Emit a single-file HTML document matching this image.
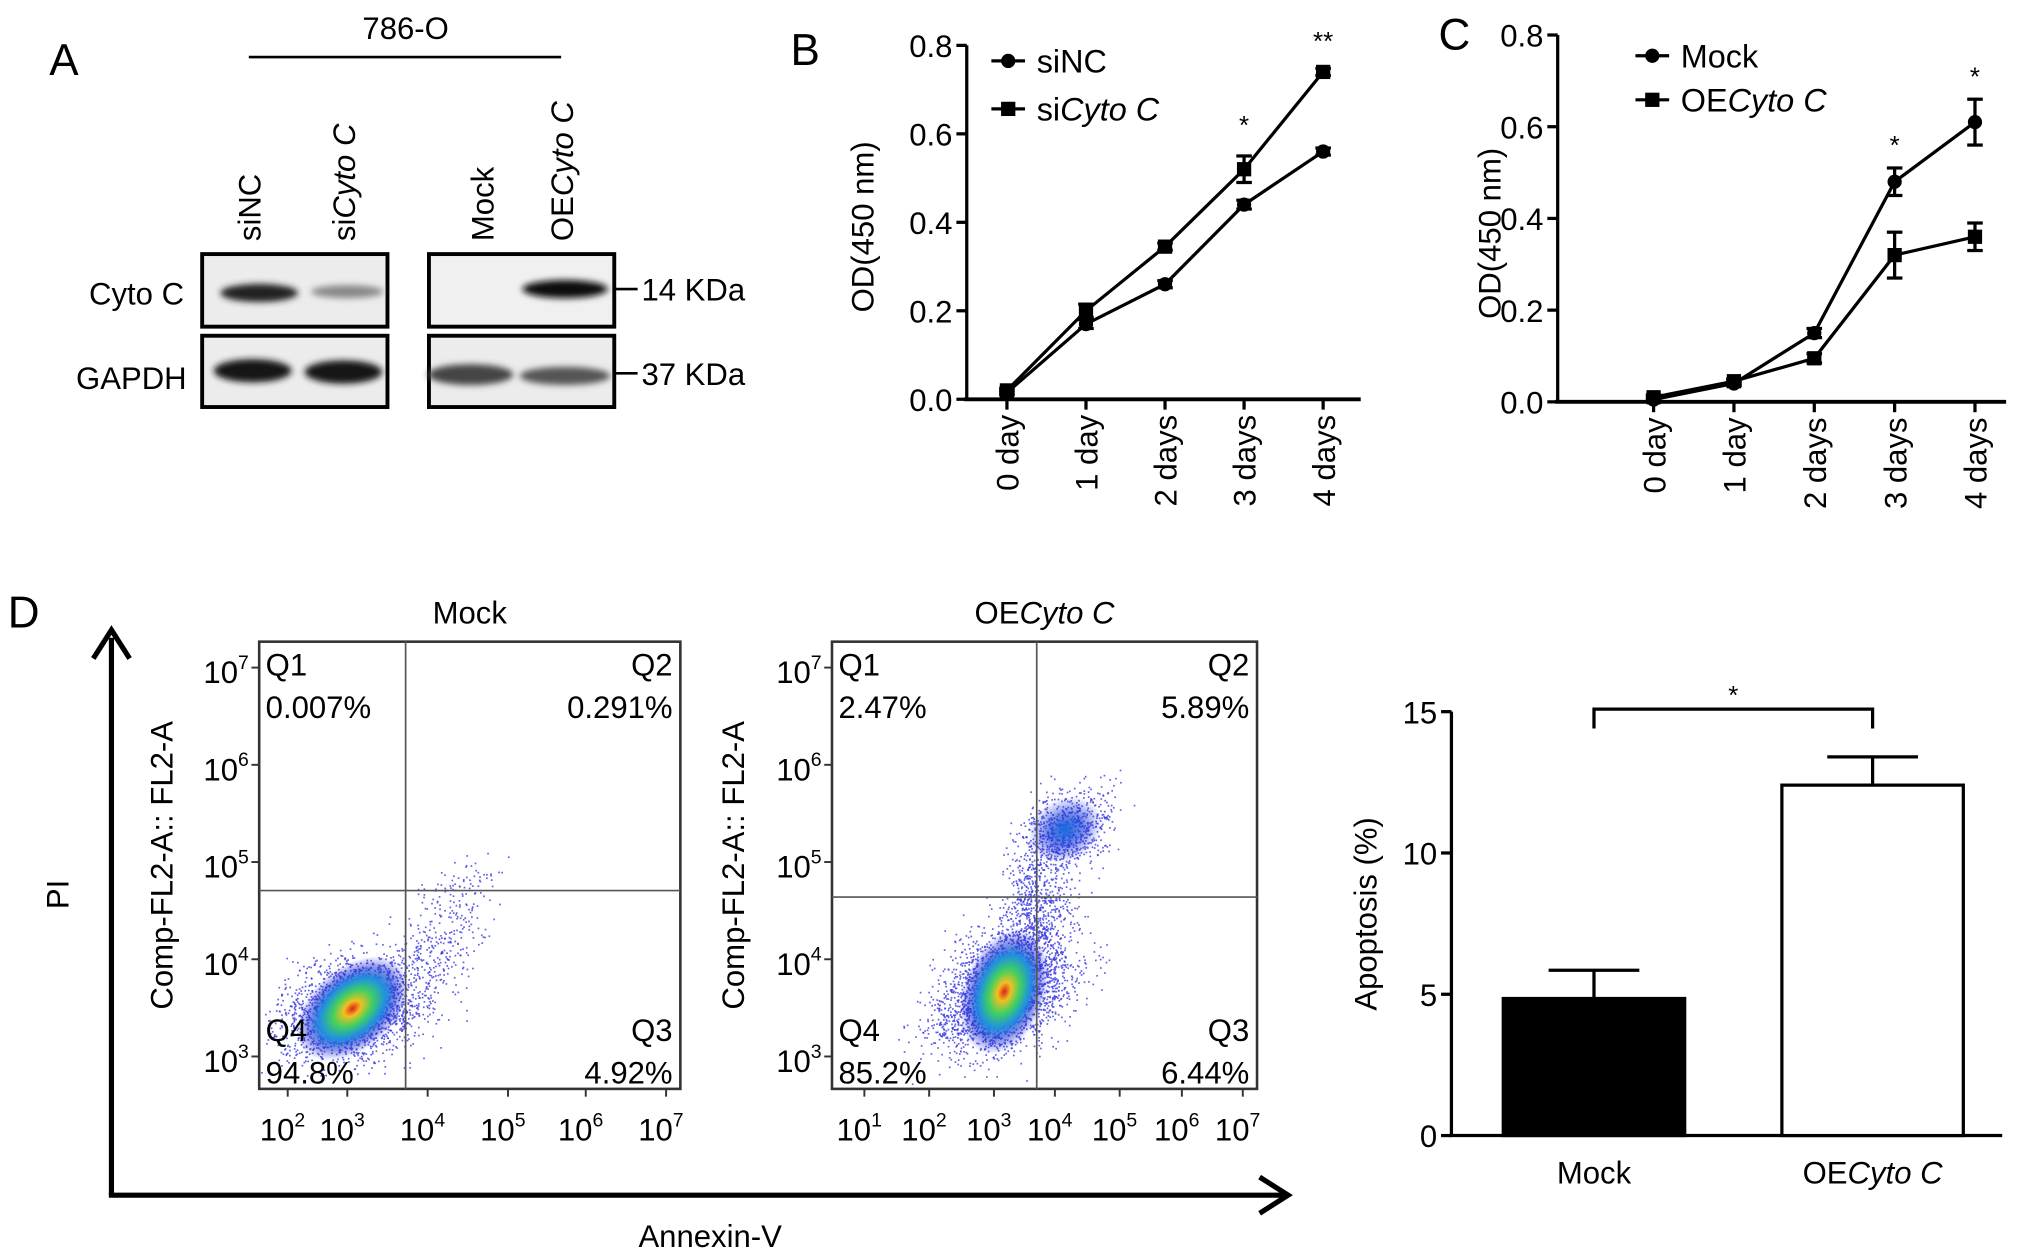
<!DOCTYPE html>
<html><head><meta charset="utf-8"><style>
html,body{margin:0;padding:0;background:#fff;}
svg{display:block;font-family:"Liberation Sans",sans-serif;}
</style></head><body>
<svg id="fig" width="2032" height="1260" viewBox="0 0 1568 972" preserveAspectRatio="none" xmlns="http://www.w3.org/2000/svg">
<defs>
<radialGradient id="dens" cx="50%" cy="50%" r="50%">
<stop offset="0" stop-color="#e0201a"/><stop offset="0.15" stop-color="#f0c020"/><stop offset="0.35" stop-color="#40d060"/><stop offset="0.58" stop-color="#2090e0"/><stop offset="0.8" stop-color="#2030d0" stop-opacity="0.5"/><stop offset="1" stop-color="#3040e0" stop-opacity="0"/>
</radialGradient>
<radialGradient id="dens2" cx="50%" cy="50%" r="50%">
<stop offset="0" stop-color="#1870e0"/><stop offset="0.5" stop-color="#2040d8" stop-opacity="0.6"/><stop offset="1" stop-color="#3040e0" stop-opacity="0"/>
</radialGradient>
<filter id="blur"><feGaussianBlur stdDeviation="2.5"/></filter>
</defs>

<g>
<text x="38" y="58" font-size="34">A</text>
<text x="313" y="30" font-size="24" text-anchor="middle">786-O</text>
<line x1="192" y1="44" x2="433" y2="44" stroke="#000" stroke-width="2"/>
<text transform="translate(201,186) rotate(-90)" font-size="24">siNC</text>
<text transform="translate(274,186) rotate(-90)" font-size="24">si<tspan font-style="italic">Cyto C</tspan></text>
<text transform="translate(381,186) rotate(-90)" font-size="24">Mock</text>
<text transform="translate(442,186) rotate(-90)" font-size="24">OE<tspan font-style="italic">Cyto C</tspan></text>
<text x="142" y="235" font-size="24" text-anchor="end">Cyto C</text>
<text x="144" y="300" font-size="24" text-anchor="end">GAPDH</text>
<rect x="156" y="196" width="143" height="56" fill="#ececec" stroke="#000" stroke-width="3"/>
<rect x="156" y="259" width="143" height="55" fill="#ececec" stroke="#000" stroke-width="3"/>
<rect x="331" y="196" width="143" height="56" fill="#f0f0f0" stroke="#000" stroke-width="3"/>
<rect x="331" y="259" width="143" height="55" fill="#ececec" stroke="#000" stroke-width="3"/>
<g filter="url(#blur)">
<ellipse cx="200" cy="226" rx="30" ry="7" fill="#222"/>
<ellipse cx="268" cy="225" rx="28" ry="5" fill="#888"/>
<ellipse cx="436" cy="223" rx="33" ry="7" fill="#111"/>
<ellipse cx="195" cy="286" rx="30" ry="9" fill="#151515"/>
<ellipse cx="265" cy="287" rx="30" ry="9" fill="#151515"/>
<ellipse cx="363" cy="289" rx="33" ry="8" fill="#444"/>
<ellipse cx="436" cy="290" rx="35" ry="7" fill="#555"/>
</g>
<line x1="474" y1="223" x2="492" y2="223" stroke="#000" stroke-width="2"/>
<line x1="474" y1="288" x2="492" y2="288" stroke="#000" stroke-width="2"/>
<text x="495" y="232" font-size="24">14 KDa</text>
<text x="495" y="297" font-size="24">37 KDa</text>
</g>

<g id="panelB"></g>
<g id="panelC"></g>

<g>
<text x="6" y="484" font-size="34">D</text>
<line x1="86" y1="922" x2="86" y2="492" stroke="#000" stroke-width="4"/>
<polyline points="72,508 86,486 100,508" fill="none" stroke="#000" stroke-width="4"/>
<line x1="84" y1="922" x2="990" y2="922" stroke="#000" stroke-width="4"/>
<polyline points="972,908 994,922 972,936" fill="none" stroke="#000" stroke-width="4"/>
<text transform="translate(53,690) rotate(-90)" font-size="24" text-anchor="middle">PI</text>
<text x="548" y="962" font-size="24" text-anchor="middle">Annexin-V</text>
</g>
<g id="flow1"></g>
<g id="flow2"></g>
<g id="panelBar"></g>
</svg>
<script>
const NS='http://www.w3.org/2000/svg';
function mk(parent,tag,attrs,text){const e=document.createElementNS(NS,tag);for(const k in attrs)e.setAttribute(k,attrs[k]);if(text!==undefined)e.textContent=text;parent.appendChild(e);return e;}

const bDays=['0 day','1 day','2 days','3 days','4 days'];
const bSiNC=[0.015,0.17,0.26,0.44,0.56];
const bSiNCErr=[0.005,0.01,0.008,0.01,0.008];
const bSiCyto=[0.02,0.20,0.345,0.52,0.74];
const bSiCytoErr=[0.005,0.015,0.008,0.03,0.008];
const bYTicks=[0,0.2,0.4,0.6,0.8];
const cDays=['0 day','1 day','2 days','3 days','4 days'];
const cMock=[0.005,0.04,0.15,0.48,0.61];
const cMockErr=[0.005,0.005,0.01,0.03,0.05];
const cOE=[0.01,0.045,0.095,0.32,0.36];
const cOEErr=[0.005,0.005,0.01,0.05,0.03];
const cYTicks=[0,0.2,0.4,0.6,0.8];
const barCats=['Mock','OECyto C'];
const barVals=[4.85,12.4];
const barErr=[1.0,1.0];
const barYTicks=[0,5,10,15];

function lineChart(g,cfg){
  const {ax,x1,y0px,y1px,ymax,xs,days,series,ticks,label,legend,stars,letter}=cfg;
  const Y=v=>y0px-(v/ymax)*(y0px-y1px);
  const X=i=>xs[0]+i*(xs[1]-xs[0]);
  const t=mk(g,'text',{x:letter[0],y:letter[1],'font-size':34},letter[2]);
  
  
  mk(g,'line',{x1:ax,y1:y1px,x2:ax,y2:y0px,stroke:'#000','stroke-width':2.5});
  mk(g,'line',{x1:ax-2,y1:y0px,x2:x1,y2:y0px,stroke:'#000','stroke-width':3});
  ticks.forEach(v=>{
    mk(g,'line',{x1:ax-8,y1:Y(v),x2:ax,y2:Y(v),stroke:'#000','stroke-width':2.5});
    const tl=mk(g,'text',{x:ax-11,y:Y(v)+9,'font-size':24,'text-anchor':'end'},v.toFixed(1));
    
    
  });
  days.forEach((d,i)=>{
    mk(g,'line',{x1:X(i),y1:y0px,x2:X(i),y2:y0px+8,stroke:'#000','stroke-width':2.5});
    const tl=mk(g,'text',{transform:`translate(${X(i)+9},${y0px+12}) rotate(-90)`,'font-size':24,'text-anchor':'end'},d);
    
    
  });
  const yl=mk(g,'text',{transform:`translate(${label[0]},${label[1]}) rotate(-90)`,'font-size':24,'text-anchor':'middle'},'OD(450 nm)');
  
  
  series.forEach(s=>{
    const pts=s.vals.map((v,i)=>X(i)+','+Y(v)).join(' ');
    const pl=mk(g,'polyline',{points:pts,fill:'none',stroke:'#000','stroke-width':2.5});
    
    
    s.vals.forEach((v,i)=>{
      const e=s.err[i];
      mk(g,'line',{x1:X(i),y1:Y(v+e),x2:X(i),y2:Y(v-e),stroke:'#000','stroke-width':2.5});
      mk(g,'line',{x1:X(i)-6,y1:Y(v+e),x2:X(i)+6,y2:Y(v+e),stroke:'#000','stroke-width':2.5});
      mk(g,'line',{x1:X(i)-6,y1:Y(v-e),x2:X(i)+6,y2:Y(v-e),stroke:'#000','stroke-width':2.5});
      let m;
      if(s.shape==='c') m=mk(g,'circle',{cx:X(i),cy:Y(v),r:5.5,fill:'#000'});
      else m=mk(g,'rect',{x:X(i)-5.5,y:Y(v)-5.5,width:11,height:11,fill:'#000'});
      
      
    });
  });
  legend.forEach(l=>{
    mk(g,'line',{x1:l.x-13,y1:l.y,x2:l.x+13,y2:l.y,stroke:'#000','stroke-width':2.5});
    if(l.shape==='c') mk(g,'circle',{cx:l.x,cy:l.y,r:5.5,fill:'#000'}); else mk(g,'rect',{x:l.x-5.5,y:l.y-5.5,width:11,height:11,fill:'#000'});
    const lt=mk(g,'text',{x:l.x+22,y:l.y+9,'font-size':25});
    
    
    mk(lt,'tspan',{},l.a); if(l.b) mk(lt,'tspan',{'font-style':'italic'},l.b);
  });
  stars.forEach(s=>{const st=mk(g,'text',{x:X(s.i),y:Y(s.v),'font-size':20,'text-anchor':'middle'},s.t);
    
    });
}
lineChart(document.getElementById('panelB'),{ax:746,x1:1050,y0px:308,y1px:35,ymax:0.8,xs:[777,838],days:bDays,ticks:bYTicks,label:[674,175],letter:[610,50,'B'],
  series:[{vals:bSiNC,err:bSiNCErr,shape:'c'},{vals:bSiCyto,err:bSiCytoErr,shape:'s'}],
  legend:[{x:778,y:47,shape:'c',a:'siNC'},{x:778,y:84,shape:'s',a:'si',b:'Cyto C'}],
  stars:[{i:3,v:0.60,t:'*'},{i:4,v:0.79,t:'**'}]});
lineChart(document.getElementById('panelC'),{ax:1202,x1:1548,y0px:310,y1px:27,ymax:0.8,xs:[1276,1338],days:cDays,ticks:cYTicks,label:[1158,180],letter:[1110,38,'C'],
  series:[{vals:cMock,err:cMockErr,shape:'c'},{vals:cOE,err:cOEErr,shape:'s'}],
  legend:[{x:1275,y:43,shape:'c',a:'Mock'},{x:1275,y:77,shape:'s',a:'OE',b:'Cyto C'}],
  stars:[{i:3,v:0.54,t:'*'},{i:4,v:0.69,t:'*'}]});

let seed=12345;function rnd(){seed=(seed*16807)%2147483647;return seed/2147483647;}
function gauss(){return (rnd()+rnd()+rnd()+rnd()-2)/1.15;}
function flow(g,cfg){
  const {x0,x1,y0,y1,vx,hy,title,xl,q,ylx,blobs}=cfg;
  const tt=mk(g,'text',{x:(x0+x1)/2,y:481,'font-size':24,'text-anchor':'middle'});
  
  
  mk(tt,'tspan',{},title[0]); if(title[1]) mk(tt,'tspan',{'font-style':'italic'},title[1]);
  const clip=mk(g,'clipPath',{id:'cl'+x0});mk(clip,'rect',{x:x0,y:y0,width:x1-x0,height:y1-y0});
  const cg=mk(g,'g',{'clip-path':`url(#cl${x0})`});
  blobs.forEach(b=>{
    for(let i=0;i<b.n;i++){const dx=gauss()*b.sx,dy=gauss()*b.sy;mk(cg,'rect',{x:b.cx+dx+dy*b.k,y:b.cy+dy,width:1.3,height:1.3,fill:'#3a3ae0','fill-opacity':0.8});}
  });
  blobs.forEach(b=>{
    if(b.core) mk(cg,'ellipse',{cx:b.cx,cy:b.cy,rx:b.core[0],ry:b.core[1],fill:b.core[2]?'url(#dens2)':'url(#dens)',transform:`rotate(${b.core[3]||0},${b.cx},${b.cy})`});
  });
  mk(g,'rect',{x:x0,y:y0,width:x1-x0,height:y1-y0,fill:'none',stroke:'#333','stroke-width':2});
  mk(g,'line',{x1:vx,y1:y0,x2:vx,y2:y1,stroke:'#555','stroke-width':1.3});
  mk(g,'line',{x1:x0,y1:hy,x2:x1,y2:hy,stroke:'#555','stroke-width':1.3});
  [7,6,5,4,3].forEach((p,i)=>{const y=515+i*75;
    mk(g,'line',{x1:x0-6,y1:y,x2:x0,y2:y,stroke:'#333','stroke-width':1.5});
    const t=mk(g,'text',{x:x0-8,y:y+12,'font-size':24,'text-anchor':'end'});
    
    
    mk(t,'tspan',{},'10');mk(t,'tspan',{'font-size':15,dy:-11},String(p));});
  xl.forEach(a=>{mk(g,'line',{x1:a[0],y1:y1,x2:a[0],y2:y1+6,stroke:'#333','stroke-width':1.5});
    const t=mk(g,'text',{x:a[0]-4,y:y1+40,'font-size':24,'text-anchor':'middle'});
    
    
    mk(t,'tspan',{},'10');mk(t,'tspan',{'font-size':15,dy:-11},String(a[1]));});
  const yl=mk(g,'text',{transform:`translate(${ylx},${(y0+y1)/2}) rotate(-90)`,'font-size':24,'text-anchor':'middle'},'Comp-FL2-A:: FL2-A');
  
  
  const L=[[x0+5,521,'start',q[0]],[x0+5,554,'start',q[1]],[x1-6,521,'end',q[2]],[x1-6,554,'end',q[3]],[x0+5,803,'start',q[4]],[x0+5,836,'start',q[5]],[x1-6,803,'end',q[6]],[x1-6,836,'end',q[7]]];
  L.forEach(l=>{const t=mk(g,'text',{x:l[0],y:l[1],'font-size':24,'text-anchor':l[2]},l[3]);
    
    });
}
flow(document.getElementById('flow1'),{x0:200,x1:525,y0:495,y1:840,vx:313,hy:687,title:['Mock'],ylx:133,
  xl:[[222,2],[268,3],[330,4],[392,5],[452,6],[514,7]],
  q:['Q1','0.007%','Q2','0.291%','Q4','94.8%','Q3','4.92%'],
  blobs:[{cx:272,cy:778,sx:50,sy:38,k:-0.4,n:2200,core:[50,32,0,-40]},{cx:335,cy:735,sx:35,sy:50,k:-0.3,n:300},{cx:360,cy:680,sx:25,sy:25,k:-0.5,n:60}]});
flow(document.getElementById('flow2'),{x0:642,x1:970,y0:495,y1:840,vx:800,hy:692,title:['OE','Cyto C'],ylx:574,
  xl:[[667,1],[717,2],[767,3],[814,4],[864,5],[912,6],[959,7]],
  q:['Q1','2.47%','Q2','5.89%','Q4','85.2%','Q3','6.44%'],
  blobs:[{cx:775,cy:765,sx:50,sy:48,k:-0.4,n:2400,core:[32,50,0,20]},{cx:798,cy:700,sx:25,sy:55,k:-0.2,n:700},{cx:822,cy:640,sx:35,sy:32,k:-0.4,n:700,core:[30,24,1,-30]}]});

(function(){
  const g=document.getElementById('panelBar');
  const ax=1120,y0=876,ytop=549,ymax=15;
  const Y=v=>y0-(v/ymax)*(y0-ytop);
  const xc=[1230,1445],bw=140;
  mk(g,'line',{x1:ax,y1:ytop,x2:ax,y2:y0,stroke:'#000','stroke-width':2.5});
  mk(g,'line',{x1:ax-2,y1:y0,x2:1545,y2:y0,stroke:'#000','stroke-width':2.5});
  barYTicks.forEach(v=>{mk(g,'line',{x1:ax-8,y1:Y(v),x2:ax,y2:Y(v),stroke:'#000','stroke-width':2.5});
    const t=mk(g,'text',{x:ax-11,y:Y(v)+9,'font-size':24,'text-anchor':'end'},String(v));
    
    });
  const yl=mk(g,'text',{transform:`translate(1062,705) rotate(-90)`,'font-size':24,'text-anchor':'middle'},'Apoptosis (%)');
  
  
  barVals.forEach((v,i)=>{
    const top=Y(v+barErr[i]);
    mk(g,'line',{x1:xc[i],y1:top,x2:xc[i],y2:Y(v),stroke:'#000','stroke-width':2.5});
    mk(g,'line',{x1:xc[i]-35,y1:top,x2:xc[i]+35,y2:top,stroke:'#000','stroke-width':2.5});
    const r=mk(g,'rect',{x:xc[i]-bw/2,y:Y(v),width:bw,height:y0-Y(v),fill:i===0?'#000':'#fff',stroke:'#000','stroke-width':2.5});
    
    
    const t=mk(g,'text',{x:xc[i],y:913,'font-size':24,'text-anchor':'middle'});
    
    
    if(i===0) t.textContent=barCats[0]; else {mk(t,'tspan',{},'OE');mk(t,'tspan',{'font-style':'italic'},barCats[1].slice(2));}
  });
  mk(g,'polyline',{points:`${xc[0]},562 ${xc[0]},547 ${xc[1]},547 ${xc[1]},562`,fill:'none',stroke:'#000','stroke-width':2.5});
  const s=mk(g,'text',{x:(xc[0]+xc[1])/2,y:543,'font-size':20,'text-anchor':'middle'},'*');
  
  
})();
</script>
</body></html>
